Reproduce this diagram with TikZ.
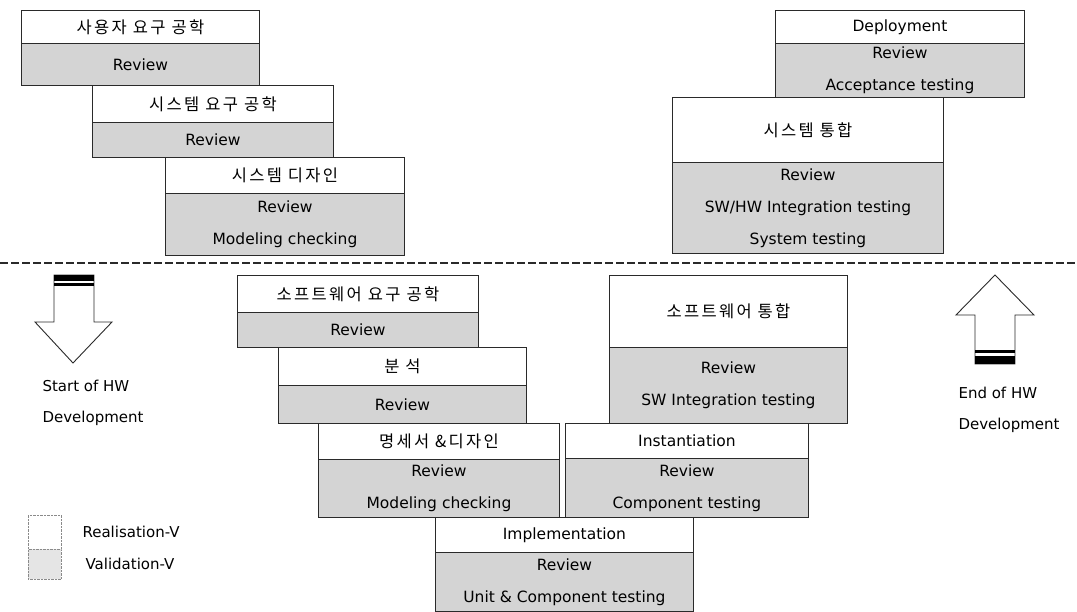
\documentclass[tikz,border=0pt]{standalone}
\usepackage{fontspec}
\setmainfont{DejaVu Sans}
\newfontfamily\krfont[LetterSpace=14]{Noto Sans CJK KR}
\usepackage{tikz}
\usetikzlibrary{calc}
\definecolor{boxline}{HTML}{2A2A2A}
\definecolor{valgray}{HTML}{D4D4D4}
\definecolor{legline}{HTML}{8A8A8A}

\tikzset{
  hdbox/.style={draw=boxline, fill=white, line width=0.9pt, inner sep=0pt,
    font=\fontsize{15.5}{17}\selectfont, anchor=north west},
  rvbox/.style={draw=boxline, fill=valgray, line width=0.9pt, inner sep=0pt,
    align=center, font=\fontsize{15.5}{32}\selectfont, anchor=north west},
  hwlabel/.style={anchor=west, align=left, font=\fontsize{15}{31}\selectfont}
}

% V stage: name, left, top, right, split, bottom, header, review rows
\newcommand{\vstage}[8]{%
  \pgfmathsetmacro{\stw}{#4-#2}%
  \pgfmathsetmacro{\sth}{#5-#3}%
  \pgfmathsetmacro{\stv}{#6-#5}%
  \node[hdbox, minimum width=\stw pt, minimum height=\sth pt] (#1) at (#2,#3) {#7};
  \node[rvbox, minimum width=\stw pt, minimum height=\stv pt] (#1-r) at (#2,#5) {#8};
}

\begin{document}
\begin{tikzpicture}[x=1pt, y=-1pt]
  \useasboundingbox (0,0) rectangle (1077,612);

  % System level (left side of the V)
  \vstage{usrreq}{21}{10}{259}{43}{85}{\krfont\fontsize{16.5}{18}\selectfont 사용자 요구 공학}{Review}
  \vstage{sysreq}{92}{85}{333}{122}{157}{\krfont\fontsize{16.5}{18}\selectfont 시스템 요구 공학}{Review}
  \vstage{sysdes}{165}{157}{404}{193}{255}{\krfont\fontsize{16.5}{18}\selectfont 시스템 디자인}{Review\\Modeling checking}

  % System level (right side of the V)
  \vstage{deploy}{775}{10}{1024}{43}{97}{Deployment}{Review\\Acceptance testing}
  \vstage{sysint}{672}{97}{943}{162}{253}{\krfont\fontsize{16.5}{18}\selectfont 시스템 통합}{Review\\SW/HW Integration testing\\System testing}

  % Software level
  \vstage{swreq}{237}{275}{478}{312}{347}{\krfont\fontsize{16.5}{18}\selectfont 소프트웨어 요구 공학}{Review}
  \vstage{swint}{609}{275}{847}{347}{423}{\krfont\fontsize{16.5}{18}\selectfont 소프트웨어 통합}{Review\\SW Integration testing}
  \vstage{anal}{278}{347}{526}{385}{423}{\krfont\fontsize{16.5}{18}\selectfont 분 석}{Review}
  \vstage{spec}{318}{423}{559}{459}{517}{\krfont\fontsize{16.5}{18}\selectfont 명세서 \&디자인}{Review\\Modeling checking}
  \vstage{inst}{565}{423}{808}{458}{517}{Instantiation}{Review\\Component testing}
  \vstage{impl}{435}{517}{693}{552}{611}{Implementation}{Review\\Unit \& Component testing}

  % HW / SW border
  \draw[boxline, line width=2.2pt, dash pattern=on 8pt off 3pt] (0,263) -- (1077,263);

  % Start of HW development (down arrow)
  \draw[boxline, line width=0.9pt, fill=white]
    (54,275) -- (94,275) -- (94,322) -- (112,322) -- (73,363) -- (35,322) -- (54,322) -- cycle;
  \fill[black] (54,275) rectangle (94,281);
  \fill[black] (54,283) rectangle (94,286);
  \node[hwlabel] (hwstart) at (39,403) {Start of HW\\Development};

  % End of HW development (up arrow)
  \draw[boxline, line width=0.9pt, fill=white]
    (975,364) -- (975,315) -- (956,315) -- (995,275) -- (1034,315) -- (1015,315) -- (1015,364) -- cycle;
  \fill[black] (975,350) rectangle (1015,353);
  \fill[black] (975,356) rectangle (1015,364);
  \node[hwlabel] (hwend) at (955,410) {End of HW\\Development};

  % Legend
  \node[draw=legline, densely dotted, fill=white, minimum width=33pt, minimum height=34pt, inner sep=0pt, anchor=north west] (legreal) at (28,515) {};
  \node[draw=legline, densely dotted, fill=valgray!60, minimum width=33pt, minimum height=30pt, inner sep=0pt, anchor=north west] (legval) at (28,549) {};
  \node[anchor=west, font=\fontsize{15}{17}\selectfont] (legrealtxt) at (79,532) {Realisation-V};
  \node[anchor=west, font=\fontsize{15}{17}\selectfont] (legvaltxt) at (82,564) {Validation-V};

\end{tikzpicture}
\end{document}
